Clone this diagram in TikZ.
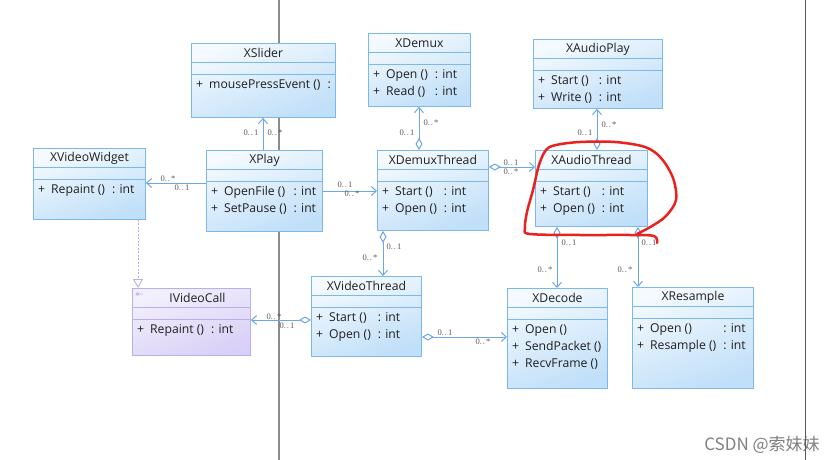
\documentclass[tikz,border=0pt]{standalone}
\usepackage{fontspec}
\setmainfont{Open Sans}
\newfontfamily\multfont{Liberation Serif}
\newfontfamily\cjkfont{Noto Sans CJK SC}
\usetikzlibrary{arrows.meta}

\definecolor{boxedge}{HTML}{7DB8EC}
\definecolor{boxtop}{HTML}{F4FAFF}
\definecolor{boxbottom}{HTML}{C0DFF8}
\definecolor{ifaceedge}{HTML}{B9B0EA}
\definecolor{ifacetop}{HTML}{F3F0FD}
\definecolor{ifacebottom}{HTML}{D8D0F6}
\definecolor{conn}{HTML}{6AA6E8}
\definecolor{scribble}{HTML}{E8231F}

% #1 style prefix, #2 name, #3 x, #4 y, #5 width, #6 height, #7 title, #8 operations
\newcommand{\umlclass}[8]{%
  \node[#1box,minimum width=#5pt,minimum height=#6pt] (#2) at (#3,#4) {};
  \node[classtitle] (#2-title) at ([yshift=-10pt]#2.north) {#7};
  \draw[#1line] ([yshift=-19.5pt]#2.north west) -- ([yshift=-19.5pt]#2.north east);
  \draw[#1line] ([yshift=-31.5pt]#2.north west) -- ([yshift=-31.5pt]#2.north east);
  \node[classops] (#2-ops) at ([xshift=5pt,yshift=-34pt]#2.north west)
    {\begin{tabular}{@{}l@{\hspace{6pt}}l@{\hspace{7pt}}l@{}}#8\end{tabular}};
}
\newcommand{\mult}[1]{0.\kern0.9pt.\kern0.9pt#1}

\begin{document}
\begin{tikzpicture}
[x=1pt,y=-1pt,%
  classbox/.style={draw=boxedge,line width=0.9pt,anchor=north west,inner sep=0pt,
    top color=boxtop,bottom color=boxbottom,shading angle=20},%
  ifacebox/.style={draw=ifaceedge,line width=0.9pt,anchor=north west,inner sep=0pt,
    top color=ifacetop,bottom color=ifacebottom,shading angle=20},%
  classline/.style={draw=boxedge,line width=0.9pt},%
  ifaceline/.style={draw=ifaceedge,line width=0.9pt},%
  classtitle/.style={inner sep=0pt,text=black!88,font=\fontsize{12.2}{14}\selectfont},%
  classops/.style={anchor=north west,inner sep=0pt,text=black!88,font=\fontsize{12.2}{16.7}\selectfont},%
  multlabel/.style={inner sep=0pt,text=black!65,font=\multfont\fontsize{8.5}{9}\selectfont},%
  assoc/.style={draw=conn,line width=1pt,-{Straight Barb[length=5pt,width=9pt]}},%
  agg/.style={draw=conn,line width=1pt,{Diamond[fill=white,length=12pt,width=7pt]}-{Straight Barb[length=5pt,width=9pt]}},%
  realize/.style={draw=ifaceedge,line width=0.9pt,dash pattern=on 2pt off 1.5pt,-{Triangle[open,fill=white,length=9pt,width=10pt]}},%
  watermark/.style={inner sep=0pt,text=black!50,font=\cjkfont\fontsize{17}{20}\selectfont}]
\useasboundingbox (0,0) rectangle (830,460);
\fill[white] (0,0) rectangle (830,460);
\node[watermark] (wm) at (762,445) {CSDN @索妹妹};
% page rules behind the diagram
\draw[black!45,line width=1.5pt] (279,0) -- (279,460);
\draw[black!65,line width=1pt] (805,0) -- (805,460);

% classes
\umlclass{class}{xslider}{191}{43}{144}{74}{XSlider}{+ & mousePressEvent () & :}
\umlclass{class}{xvideowidget}{33}{148}{112}{71}{XVideoWidget}{+ & Repaint () & : int}
\umlclass{class}{xplay}{206}{150}{116}{81}{XPlay}{+ & OpenFile () & : int\\ + & SetPause () & : int}
\umlclass{class}{xdemux}{368}{33}{102}{73}{XDemux}{+ & Open () & : int\\ + & Read () & : int}
\umlclass{class}{xaudioplay}{533}{39}{129}{69}{XAudioPlay}{+ & Start () & : int\\ + & Write () & : int}
\umlclass{class}{xdemuxthread}{377}{150}{111}{80}{XDemuxThread}{+ & Start () & : int\\ + & Open () & : int}
\umlclass{class}{xaudiothread}{535}{150}{112}{76}{XAudioThread}{+ & Start () & : int\\ + & Open () & : int}
\umlclass{class}{xvideothread}{311}{276}{110}{80}{XVideoThread}{+ & Start () & : int\\ + & Open () & : int}
\umlclass{iface}{ivideocall}{132}{288}{118}{67}{\hspace{12pt}IVideoCall}{+ & Repaint () & : int}
\umlclass{class}{xdecode}{507}{288}{100}{100}{XDecode}{+ & Open () & \\ + & SendPacket () & \\ + & RecvFrame () & }
\umlclass{class}{xresample}{632}{287}{121}{101}{XResample}{+ & Open () & : int\\ + & Resample () & : int}
% interface mark
\draw[ifaceline,line width=0.8pt] (137.5,294) circle (1.4) (139,294) -- (143,294);

% connectors
\draw[assoc] (xplay.north -| 263,0) -- (xslider.south -| 263,0);
\draw[assoc] (xplay.west |- 0,183) -- (xvideowidget.east |- 0,183);
\draw[assoc] (xplay.east |- 0,191) -- (xdemuxthread.west |- 0,191);
\draw[agg] (xdemuxthread.north -| 419,0) -- (xdemux.south -| 419,0);
\draw[agg] (xaudiothread.north -| 597,0) -- (xaudioplay.south -| 597,0);
\draw[agg] (xdemuxthread.east |- 0,167) -- (xaudiothread.west |- 0,167);
\draw[agg] (xdemuxthread.south -| 383,0) -- (xvideothread.north -| 383,0);
\draw[agg] (xvideothread.west |- 0,320) -- (ivideocall.east |- 0,320);
\draw[agg] (xvideothread.east |- 0,337) -- (xdecode.west |- 0,337);
\draw[agg] (xaudiothread.south -| 557,0) -- (xdecode.north -| 557,0);
\draw[agg] (xaudiothread.south -| 638,0) -- (xresample.north -| 638,0);
\draw[realize] (xvideowidget.south -| 138,0) -- (ivideocall.north -| 138,0);

% multiplicities
\node[multlabel] (m1) at (251,133) {\mult{1}};
\node[multlabel] (m2) at (275,133) {\mult{*}};
\node[multlabel] (m3) at (168,179) {\mult{*}};
\node[multlabel] (m4) at (182,188) {\mult{1}};
\node[multlabel] (m5) at (345,185) {\mult{1}};
\node[multlabel] (m6) at (352,194) {\mult{*}};
\node[multlabel] (m7) at (407,133) {\mult{1}};
\node[multlabel] (m8) at (431,123) {\mult{*}};
\node[multlabel] (m9) at (585,133) {\mult{1}};
\node[multlabel] (m10) at (609,125) {\mult{*}};
\node[multlabel] (m11) at (511,163) {\mult{1}};
\node[multlabel] (m12) at (511,172) {\mult{*}};
\node[multlabel] (m13) at (394,247) {\mult{1}};
\node[multlabel] (m14) at (370,258) {\mult{*}};
\node[multlabel] (m15) at (274,317) {\mult{*}};
\node[multlabel] (m16) at (287,326) {\mult{1}};
\node[multlabel] (m17) at (445,333) {\mult{1}};
\node[multlabel] (m18) at (483,342) {\mult{*}};
\node[multlabel] (m19) at (569,243) {\mult{1}};
\node[multlabel] (m20) at (545,270) {\mult{*}};
\node[multlabel] (m21) at (649,243) {\mult{1}};
\node[multlabel] (m22) at (625,270) {\mult{*}};

% hand-drawn mark
\draw[scribble,line width=2.5pt,line cap=round,line join=round]
  plot[smooth,tension=0.55] coordinates {(637,234) (652,226) (666,216) (676,200)
    (673,178) (661,158) (645,147) (615,142) (580,142) (556,145) (546,150)
    (539,165) (533,190) (527,212) (525,228) (530,234) (580,235) (630,235)
    (654,236) (657,243)};
\end{tikzpicture}
\end{document}
